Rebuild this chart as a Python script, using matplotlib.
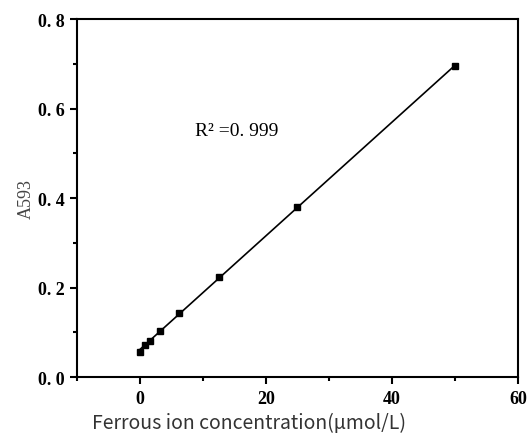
import matplotlib
matplotlib.use('Agg')
import matplotlib.pyplot as plt
import numpy as np
from matplotlib.ticker import MultipleLocator, FixedLocator

# Data
conc = [0, 0.78, 1.56, 3.125, 6.25, 12.5, 25, 50]
absorb = [0.057, 0.072, 0.080, 0.103, 0.143, 0.223, 0.380, 0.695]
yticks = [0.0, 0.2, 0.4, 0.6, 0.8]
ytick_labels = ['0. 0', '0. 2', '0. 4', '0. 6', '0. 8']
xticks = [0, 20, 40, 60]

fig = plt.figure(figsize=(5.28, 4.35), dpi=100)
ax = fig.add_axes([0.1458, 0.131, 0.981 - 0.1458, 0.954 - 0.131])

# linear fit line
k, b = np.polyfit(conc, absorb, 1)
xs = np.array([conc[0], conc[-1]])
ax.plot(xs, k * xs + b, color='black', linewidth=1.2, zorder=2)
ax.plot(conc, absorb, 's', color='black', markersize=5, zorder=3)

ax.set_xlim(-10, 60)
ax.set_ylim(0, 0.8)

ax.xaxis.set_major_locator(FixedLocator(xticks))
ax.xaxis.set_minor_locator(MultipleLocator(10))
ax.yaxis.set_major_locator(FixedLocator(yticks))
ax.yaxis.set_minor_locator(MultipleLocator(0.1))
ax.set_yticklabels(ytick_labels)

serif = ['Liberation Serif', 'DejaVu Serif']
for lab in ax.get_xticklabels() + ax.get_yticklabels():
    lab.set_family(serif)
    lab.set_fontsize(13)
    lab.set_fontweight('bold')

ax.tick_params(which='major', direction='out', length=5, width=1.5, pad=4)
ax.tick_params(which='minor', direction='out', length=3, width=1.5)
ax.tick_params(top=False, right=False)
for s in ax.spines.values():
    s.set_linewidth(1.5)

ax.set_xlabel('Ferrous ion concentration(μmol/L)', fontsize=14,
              family=['Noto Sans CJK SC', 'DejaVu Sans'], color='#333333')
ax.xaxis.set_label_coords(0.39, -0.098)
ax.set_ylabel('A593', fontsize=13, family=serif, color='#444444', labelpad=2)

ax.text(8.7, 0.55, 'R² =0. 999', fontsize=14, family=serif, ha='left', va='center')

plt.savefig('out.png', dpi=100)
